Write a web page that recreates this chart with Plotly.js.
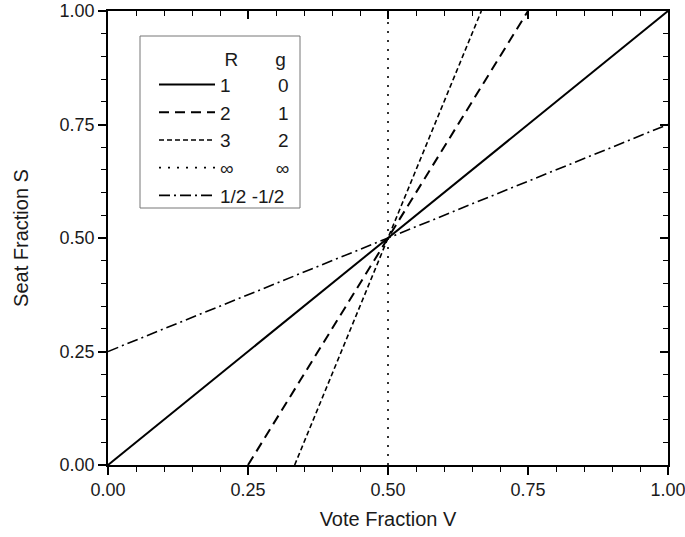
<!DOCTYPE html>
<html><head><meta charset="utf-8">
<script src="https://cdn.plot.ly/plotly-3.0.1.min.js"></script>
<style>body{margin:0;background:#fff}#c{width:685px;height:537px}</style>
</head><body><div id="c"></div><div id="err" style="position:absolute;left:300px;top:250px;font-size:11px;color:red;width:380px"></div>
<script>
window.onerror = function(m){ document.getElementById("err").textContent += " ERR:" + m; };
const legendR = ["1", "2", "3", "\u221E", "1/2"];
const legendG = ["0", "1", "2", "\u221E", "-1/2"];
const vR1 = [0, 1],        sR1 = [0, 1];
const vR2 = [0.25, 0.75],  sR2 = [0, 1];
const vR3 = [1/3, 2/3],    sR3 = [0, 1];
const vInf = [0.5, 0.5],   sInf = [0, 1];
const vHalf = [0, 1],      sHalf = [0.25, 0.75];
const axisRange = [0, 1];
const majorStep = 0.25, minorStep = 0.05, tickFormat = ".2f";

const nb = n => "&#160;".repeat(n);
const gaps = [9, 9, 9, 8, 1];
const names = legendR.map((r, i) => r + nb(gaps[i]) + legendG[i]);
const dashes = ["solid", "10px,6px", "5px,3px", "2px,7px", "11px,4px,2px,4px"];
const xs = [vR1, vR2, vR3, vInf, vHalf];
const ys = [sR1, sR2, sR3, sInf, sHalf];
const widths = [2, 2, 1.6, 1.6, 1.6];
const data = xs.map((x, i) => ({
  x: x, y: ys[i], mode: "lines", name: names[i],
  xaxis: i === 0 ? "x2" : "x", yaxis: i === 0 ? "y2" : "y",
  line: {color: "#000", width: widths[i], dash: dashes[i]}
}));

const font = {family: "Liberation Sans, Arial, sans-serif", color: "#1a1a1a"};
function ax(extra, dir) {
  return Object.assign({
    range: axisRange, tickmode: "linear", tick0: 0, dtick: majorStep, tickformat: tickFormat,
    ticks: dir, ticklen: 8, tickwidth: 1.5, tickcolor: "#000",
    minor: {tick0: 0, dtick: minorStep, ticks: dir, ticklen: 5, tickwidth: 1.3, tickcolor: "#000", showgrid: false},
    showline: true, linecolor: "#000", linewidth: 1.5, showgrid: false, zeroline: false,
    tickfont: {size: 18}, ticklabeloverflow: "allow"
  }, extra);
}
const layout = {
  width: 685, height: 537,
  margin: {l: 108, r: 17, t: 11, b: 72},
  font: font,
  xaxis: ax({title: {text: "Vote Fraction V", font: {size: 20}, standoff: 13}}, "outside"),
  yaxis: ax({title: {text: "Seat Fraction S", font: {size: 20}, standoff: 26}}, "outside"),
  xaxis2: ax({overlaying: "x", side: "top", anchor: "y2", showticklabels: false}, "inside"),
  yaxis2: ax({overlaying: "y", side: "right", anchor: "x2", showticklabels: false}, "inside"),
  shapes: [{type: "rect", xref: "paper", yref: "paper", x0: 32/560, x1: 192/560, y0: 1 - 197/454, y1: 1 - 25/454,
            line: {color: "#777", width: 1}, fillcolor: "#fff", layer: "below"}],
  showlegend: true,
  legend: {
    x: 46/560, y: 1 - 30/454, xanchor: "left", yanchor: "top",
    bgcolor: "rgba(0,0,0,0)", borderwidth: 0,
    font: {size: 19},
    title: {text: nb(13) + "R" + nb(7) + "g", font: {size: 19}},
    itemwidth: 56, tracegroupgap: 0
  }
};
Plotly.newPlot("c", data, layout, {displayModeBar: false}).catch(e => { document.getElementById("err").textContent += " P:" + e; });
</script></body></html>
